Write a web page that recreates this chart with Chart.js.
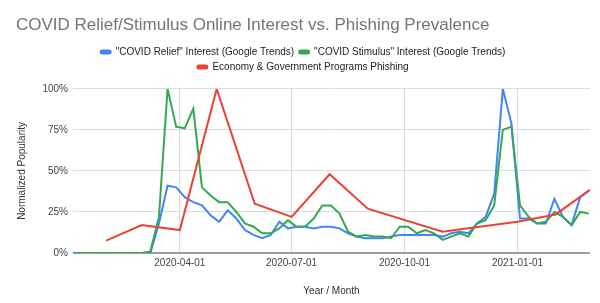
<!DOCTYPE html>
<html>
<head>
<meta charset="utf-8">
<script src="https://cdn.jsdelivr.net/npm/chart.js@4.4.0/dist/chart.umd.min.js"></script>
<style>
  html, body { margin: 0; padding: 0; background: #fff; }
</style>
</head>
<body>
<canvas id="chart" width="600" height="303"></canvas>
<script>
// weekly Google Trends points (week starting)
const weeks = [
    '2020-01-05', '2020-01-12', '2020-01-19', '2020-01-26', '2020-02-02', '2020-02-09', '2020-02-16', '2020-02-23',
    '2020-03-01', '2020-03-08', '2020-03-15', '2020-03-22', '2020-03-29', '2020-04-05', '2020-04-12', '2020-04-19',
    '2020-04-26', '2020-05-03', '2020-05-10', '2020-05-17', '2020-05-24', '2020-05-31', '2020-06-07', '2020-06-14',
    '2020-06-21', '2020-06-28', '2020-07-05', '2020-07-12', '2020-07-19', '2020-07-26', '2020-08-02', '2020-08-09',
    '2020-08-16', '2020-08-23', '2020-08-30', '2020-09-06', '2020-09-13', '2020-09-20', '2020-09-27', '2020-10-04',
    '2020-10-11', '2020-10-18', '2020-10-25', '2020-11-01', '2020-11-08', '2020-11-15', '2020-11-22', '2020-11-29',
    '2020-12-06', '2020-12-13', '2020-12-20', '2020-12-27', '2021-01-03', '2021-01-10', '2021-01-17', '2021-01-24',
    '2021-01-31', '2021-02-07', '2021-02-14', '2021-02-21', '2021-02-28'
];

const reliefInterest = [
    0, 0, 0, 0, 0, 0, 0, 0,
    0, 0, 18, 41, 40, 34, 31, 29,
    23, 19, 26, 21, 14, 11, 9, 11,
    19, 15, 16, 16, 15, 16, 16, 15,
    12, 10, 9, 9, 9, 10, 11, 11,
    11, 11, 11, 10, 12, 13, 12, 18,
    22, 36, 100, 79, 21, 21, 18, 18,
    33, 22, 17, 34, 38
];

const stimulusInterest = [
    0, 0, 0, 0, 0, 0, 0, 0,
    0, 1, 22, 100, 77, 76, 88, 40,
    35, 31, 31, 25, 18, 16, 12, 12,
    15, 20, 16, 16, 21, 29, 29, 24,
    13, 10, 11, 10, 10, 9, 16, 16,
    12, 14, 12, 8, 10, 12, 10, 18,
    20, 29, 75, 77, 29, 22, 18, 19,
    25, 22, 17, 25, 24
];

// monthly phishing prevalence
const phishingMonths = [
    '2020-02-01', '2020-03-01', '2020-04-01', '2020-05-01', '2020-06-01', '2020-07-01', '2020-08-01',
    '2020-09-01', '2020-11-01', '2020-12-01', '2021-01-01', '2021-02-01', '2021-03-01'
];
const phishingValues = [7.5, 17, 14, 100, 30, 22, 48, 27, 13, 16, 19, 23.5, 38.5];

const xTickDates = ['2020-04-01', '2020-07-01', '2020-10-01', '2021-01-01'];
const yTickValues = [0, 25, 50, 75, 100];

const FONT = "'Liberation Sans', Arial, sans-serif";

function toPoints(dates, values) {
    return dates.map((d, i) => ({ x: Date.parse(d), y: values[i] }));
}

function fmtDate(ms) {
    return new Date(ms).toISOString().slice(0, 10);
}

// push the plot area down a bit below the legend
const legendGap = {
    id: 'legendGap',
    beforeInit(chart) {
        const fit = chart.legend.fit;
        chart.legend.fit = function () {
            fit.call(this);
            this.height += 7;
        };
    }
};

const ctx = document.getElementById('chart').getContext('2d');
const chart = new Chart(ctx, {
    type: 'line',
    data: {
        datasets: [
            {
                label: '"COVID Relief" Interest (Google Trends)',
                data: toPoints(weeks, reliefInterest),
                borderColor: '#4285F4',
                backgroundColor: '#4285F4',
                order: 3
            },
            {
                label: '"COVID Stimulus" Interest (Google Trends)',
                data: toPoints(weeks, stimulusInterest),
                borderColor: '#34A853',
                backgroundColor: '#34A853',
                order: 2
            },
            {
                label: 'Economy & Government Programs Phishing',
                data: toPoints(phishingMonths, phishingValues),
                borderColor: '#EA4335',
                backgroundColor: '#EA4335',
                order: 1
            }
        ]
    },
    options: {
        responsive: false,
        animation: false,
        devicePixelRatio: 1,
        layout: { padding: { left: 16, right: 10, top: 0, bottom: 0 } },
        elements: {
            line: { borderWidth: 2, tension: 0 },
            point: { radius: 0 }
        },
        plugins: {
            title: {
                display: true,
                text: 'COVID Relief/Stimulus Online Interest vs. Phishing Prevalence',
                align: 'start',
                color: '#757575',
                font: { family: FONT, size: 17, weight: 'normal' },
                padding: { top: 15, bottom: 6.5 }
            },
            legend: {
                labels: {
                    color: '#222',
                    font: { family: FONT, size: 10 },
                    boxWidth: 10,
                    boxHeight: 3,
                    padding: 5,
                    useBorderRadius: true,
                    borderRadius: 1.5,
                    sort: (a, b) => a.datasetIndex - b.datasetIndex
                }
            },
            tooltip: { enabled: false }
        },
        scales: {
            x: {
                type: 'linear',
                min: Date.parse(weeks[0]),
                max: Date.parse(phishingMonths[phishingMonths.length - 1]),
                afterBuildTicks: scale => {
                    scale.ticks = xTickDates.map(d => ({ value: Date.parse(d) }));
                },
                afterFit: scale => { scale.height = 50; },
                ticks: {
                    callback: v => fmtDate(v),
                    color: '#444',
                    font: { family: FONT, size: 10 },
                    padding: 4,
                    maxRotation: 0
                },
                grid: { color: '#dcdcdc', drawTicks: false },
                border: { display: false },
                title: {
                    display: true,
                    text: 'Year / Month',
                    color: '#333',
                    font: { family: FONT, size: 10 },
                    padding: { top: 0, bottom: 6 }
                }
            },
            y: {
                min: 0,
                max: 100,
                afterBuildTicks: scale => {
                    scale.ticks = yTickValues.map(v => ({ value: v }));
                },
                afterFit: scale => { scale.width = 57; },
                ticks: {
                    callback: v => v + '%',
                    color: '#444',
                    font: { family: FONT, size: 10 },
                    padding: 5
                },
                grid: {
                    drawTicks: false,
                    color: c => c.tick && c.tick.value === 0 ? '#9e9e9e' : '#dcdcdc',
                    lineWidth: c => c.tick && c.tick.value === 0 ? 2 : 1
                },
                border: { display: false },
                title: {
                    display: true,
                    text: 'Normalized Popularity',
                    color: '#333',
                    font: { family: FONT, size: 10 },
                    padding: { top: 0, bottom: 0 }
                }
            }
        }
    },
    plugins: [legendGap]
});
</script>
</body>
</html>
